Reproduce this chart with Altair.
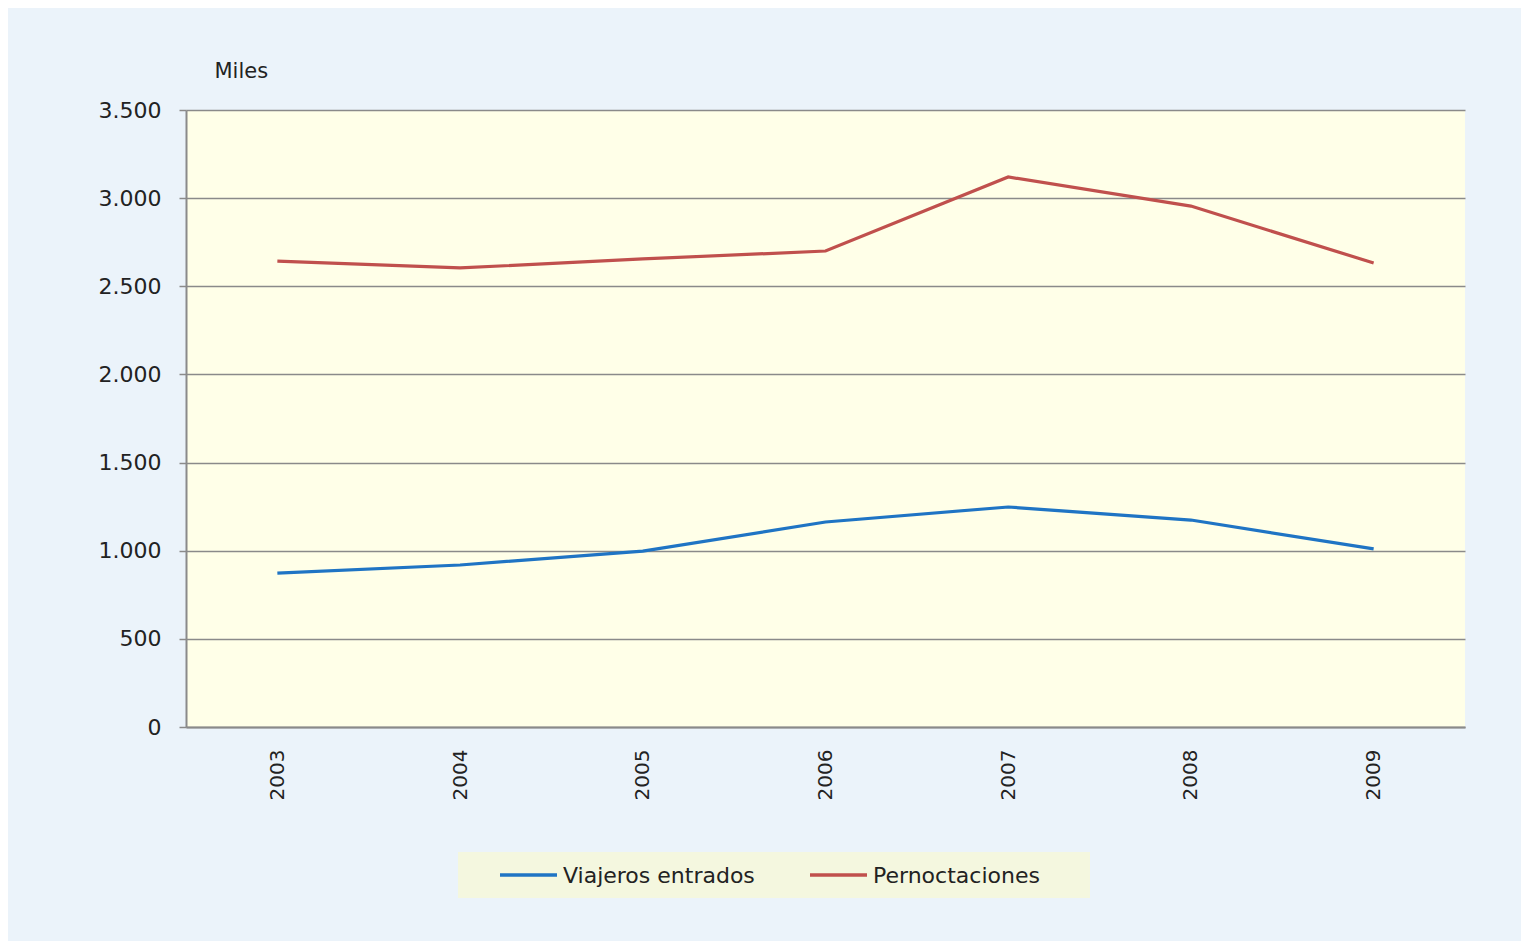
import altair as alt
import pandas as pd

years = ["2003", "2004", "2005", "2006", "2007", "2008", "2009"]
viajeros = [873, 919, 998, 1163, 1248, 1174, 1010]
pernoctaciones = [2643, 2604, 2655, 2700, 3120, 2955, 2632]
series_names = ["Viajeros entrados", "Pernoctaciones"]
series_colors = ["#1F74C4", "#C0504D"]

rows = []
for name, vals in zip(series_names, [viajeros, pernoctaciones]):
    for y, v in zip(years, vals):
        rows.append({"Año": y, "Valor": v, "Serie": name})
df = pd.DataFrame(rows)

font = "DejaVu Sans"
txt = "#222222"

lines = alt.Chart(df).mark_line(strokeWidth=3.2).encode(
    x=alt.X("Año:N", sort=years,
            scale=alt.Scale(paddingInner=0, paddingOuter=0),
            axis=alt.Axis(title=None, labelAngle=-90, labelAlign="right", labelBaseline="middle",
                          labelPadding=22, ticks=False, grid=False,
                          labelFont=font, labelFontSize=20, labelColor=txt,
                          domainColor="#8A8A8A", domainWidth=2)),
    y=alt.Y("Valor:Q",
            scale=alt.Scale(domain=[0, 3500], nice=False),
            axis=alt.Axis(values=[0, 500, 1000, 1500, 2000, 2500, 3000, 3500],
                          labelExpr="replace(format(datum.value, ','), ',', '.')",
                          title="Miles", titleAngle=0, titleAlign="left", titleBaseline="middle",
                          titleX=28, titleY=-39, titleFont=font, titleFontSize=21,
                          titleFontWeight="normal", titleColor=txt,
                          labelFont=font, labelFontSize=22, labelColor=txt, labelPadding=18,
                          tickSize=7, tickColor="#8A8A8A", tickWidth=1.5,
                          gridColor="#8A8A8A", gridWidth=1.5,
                          domainColor="#8A8A8A", domainWidth=2)),
    color=alt.Color("Serie:N", sort=series_names,
                    scale=alt.Scale(domain=series_names, range=series_colors),
                    legend=None),
)

# Legend box (drawn as marks, one row, two entries)
leg_df = pd.DataFrame({"Serie": series_names})

leg_box = alt.Chart(leg_df.head(1)).mark_rect(fill="#F4F7DF").encode(
    x=alt.value(272), x2=alt.value(904), y=alt.value(742), y2=alt.value(788)
)

leg_items = []
sym_x = [314, 624]
for i, name in enumerate(series_names):
    d = leg_df[leg_df["Serie"] == name]
    sym = alt.Chart(d).mark_rule(strokeWidth=3.5).encode(
        x=alt.value(sym_x[i]), x2=alt.value(sym_x[i] + 57), y=alt.value(765),
        color=alt.Color("Serie:N", scale=alt.Scale(domain=series_names, range=series_colors), legend=None),
    )
    lab = alt.Chart(d).mark_text(align="left", baseline="middle", font=font, fontSize=22,
                                 color=txt).encode(
        x=alt.value(sym_x[i] + 63), y=alt.value(766), text="Serie:N"
    )
    leg_items += [sym, lab]

chart = alt.layer(lines, leg_box, *leg_items).properties(
    width=1279, height=617,
    background="#EBF3FA",
    padding={"left": 178, "top": 102, "right": 56, "bottom": 214},
    autosize=alt.AutoSizeParams(type="none"),
).configure_view(fill="#FFFFE8", stroke=None)

chart.save("out.html", embed_options={"renderer": "svg", "actions": False})
